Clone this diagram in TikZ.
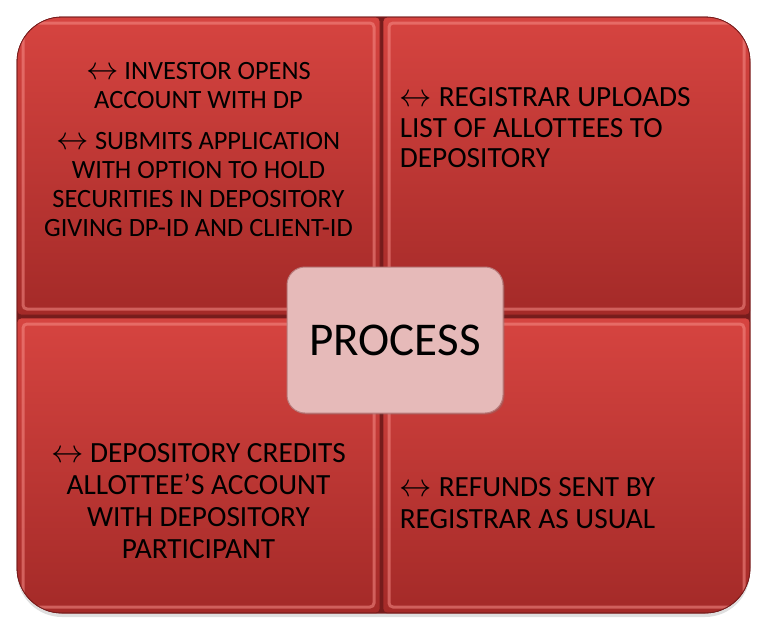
\documentclass[tikz,border=0pt]{standalone}
\usepackage{fontspec}
\usepackage{graphicx}
\setmainfont{Carlito}
\usetikzlibrary{positioning, shadows}

\definecolor{quadtop}{RGB}{214,68,64}
\definecolor{quadbot}{RGB}{164,42,40}
\definecolor{quadedge}{RGB}{118,28,28}
\definecolor{bevellight}{RGB}{245,140,135}
\definecolor{procfill}{RGB}{230,186,185}
\definecolor{procedge}{RGB}{185,125,125}

\newcommand{\arr}{\scalebox{1.3}{$\leftrightarrow$}}

\begin{document}
\begin{tikzpicture}[x=1pt, y=-1pt,
    frame/.style={draw=quadedge, fill=quadedge, rounded corners=45pt, outer sep=0pt, line width=0.8pt,
        minimum width=733pt, minimum height=596pt,
        drop shadow={shadow xshift=0pt, shadow yshift=-4pt, opacity=0.25}},
    quad/.style={rectangle, rounded corners=4pt, draw=quadedge, line width=0.8pt,
        top color=quadtop, bottom color=quadbot},
    bevel/.style={rectangle, rounded corners=4pt, draw=bevellight, line width=3pt, opacity=0.55},
    process/.style={rectangle, rounded corners=18pt, fill=procfill, draw=procedge, line width=1pt,
        minimum width=216pt, minimum height=146pt, font=\fontsize{47}{56}\selectfont,
        drop shadow={shadow xshift=1.5pt, shadow yshift=-1.5pt, opacity=0.3}},
    item/.style={inner sep=0pt, font=\fontsize{26.4}{29}\selectfont},
    bigitem/.style={inner sep=0pt, font=\fontsize{29.3}{32}\selectfont}
]
\useasboundingbox (0,0) rectangle (759,630);

% Dark frame behind the quadrants
\node[frame] (frame) at (383.5,315) {};

% Four quadrants
\begin{scope}
\clip[rounded corners=45pt] (frame.north west) rectangle (frame.south east);
\node[quad, minimum width=363pt, minimum height=298pt] (tl) at (198.5,166) {};
\node[quad, minimum width=367pt, minimum height=298pt] (tr) at (566.5,166) {};
\node[quad, minimum width=363pt, minimum height=295pt] (bl) at (198.5,465.5) {};
\node[quad, minimum width=367pt, minimum height=295pt] (br) at (566.5,465.5) {};
% bevel highlights
\node[bevel, minimum width=351pt, minimum height=286pt] (tlb) at (tl) {};
\node[bevel, minimum width=355pt, minimum height=286pt] (trb) at (tr) {};
\node[bevel, minimum width=351pt, minimum height=283pt] (blb) at (bl) {};
\node[bevel, minimum width=355pt, minimum height=283pt] (brb) at (br) {};
\end{scope}
\draw[quadedge, line width=0.8pt, rounded corners=45pt] (frame.north west) rectangle (frame.south east);

% Quadrant texts
\node[item, align=center, below=46pt of tl.north] (tltext)
    {\arr{} INVESTOR OPENS\\ ACCOUNT WITH DP\\[12pt]
     \arr{} SUBMITS APPLICATION\\ WITH OPTION TO HOLD\\
     SECURITIES IN DEPOSITORY\\ GIVING DP-ID AND CLIENT-ID};
\node[bigitem, font=\fontsize{29.3}{30.5}\selectfont, align=left,
    below right=71pt and 17pt of tr.north west] (trtext)
    {\arr{} REGISTRAR UPLOADS\\ LIST OF ALLOTTEES TO\\ DEPOSITORY};
\node[bigitem, align=center, below=126pt of bl.north] (bltext)
    {\arr{} DEPOSITORY CREDITS\\ ALLOTTEE’S ACCOUNT\\ WITH DEPOSITORY\\ PARTICIPANT};
\node[bigitem, align=left, below right=160pt and 17pt of br.north west] (brtext)
    {\arr{} REFUNDS SENT BY\\ REGISTRAR AS USUAL};

% Centre box
\node[process] (process) at (395,340) {PROCESS};

\end{tikzpicture}
\end{document}
